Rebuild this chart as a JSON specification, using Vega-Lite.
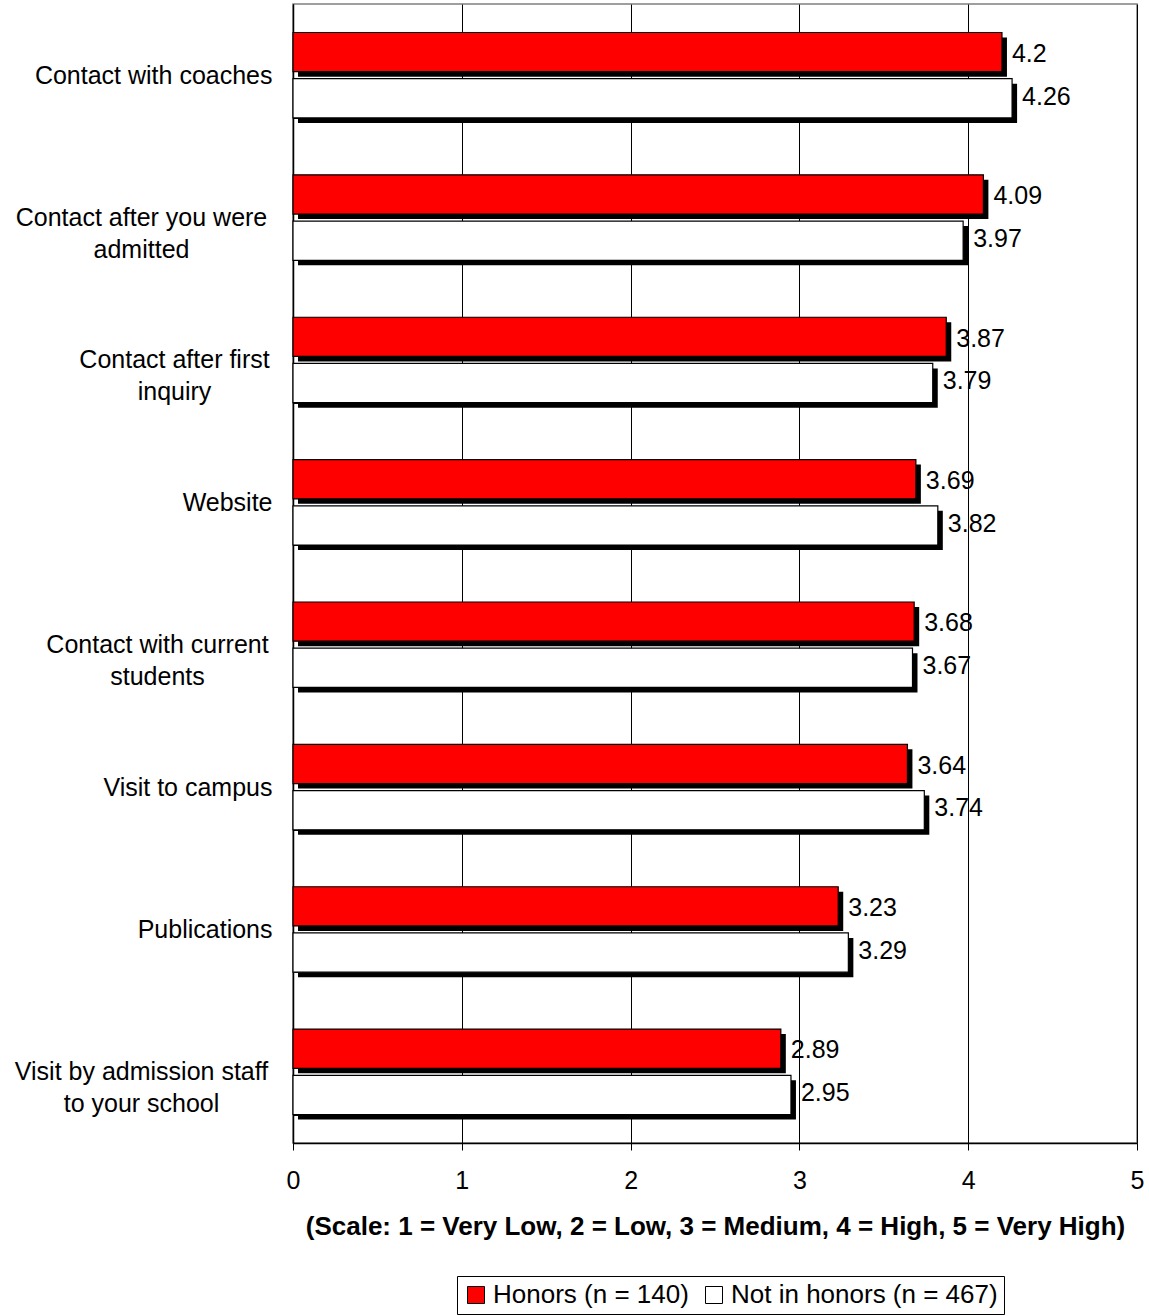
{
  "$schema": "https://vega.github.io/schema/vega-lite/v6.json",
  "width": 844,
  "height": 1139,
  "autosize": "none",
  "padding": {"left": 293, "top": 4, "right": 12, "bottom": 173},
  "background": "white",
  "config": {
    "font": "Liberation Sans",
    "view": {"stroke": "#808080", "strokeWidth": 1.5},
    "axis": {"labelFont": "Liberation Sans", "titleFont": "Liberation Sans", "labelColor": "black", "titleColor": "black", "domainColor": "black", "tickColor": "black"}
  },
  "data": {
    "values": [
      {"category": "Contact with coaches", "group": "Honors (n = 140)", "value": 4.2},
      {"category": "Contact with coaches", "group": "Not in honors (n = 467)", "value": 4.26},
      {"category": "Contact after you were|admitted", "group": "Honors (n = 140)", "value": 4.09},
      {"category": "Contact after you were|admitted", "group": "Not in honors (n = 467)", "value": 3.97},
      {"category": "Contact after first|inquiry", "group": "Honors (n = 140)", "value": 3.87},
      {"category": "Contact after first|inquiry", "group": "Not in honors (n = 467)", "value": 3.79},
      {"category": "Website", "group": "Honors (n = 140)", "value": 3.69},
      {"category": "Website", "group": "Not in honors (n = 467)", "value": 3.82},
      {"category": "Contact with current|students", "group": "Honors (n = 140)", "value": 3.68},
      {"category": "Contact with current|students", "group": "Not in honors (n = 467)", "value": 3.67},
      {"category": "Visit to campus", "group": "Honors (n = 140)", "value": 3.64},
      {"category": "Visit to campus", "group": "Not in honors (n = 467)", "value": 3.74},
      {"category": "Publications", "group": "Honors (n = 140)", "value": 3.23},
      {"category": "Publications", "group": "Not in honors (n = 467)", "value": 3.29},
      {"category": "Visit by admission staff|to your school", "group": "Honors (n = 140)", "value": 2.89},
      {"category": "Visit by admission staff|to your school", "group": "Not in honors (n = 467)", "value": 2.95}
    ]
  },
  "encoding": {
    "y": {
      "field": "category", "type": "nominal", "sort": null,
      "scale": {"paddingInner": 0.4, "paddingOuter": 0.2},
      "axis": {
        "title": null,
        "labelExpr": "isString(datum.value) ? split(datum.value, '|') : ''",
        "labelFontSize": 25,
        "labelLineHeight": 32,
        "labelLimit": 0,
        "tickBand": "extent",
        "tickSize": -8,
        "domainWidth": 1.5,
        "labelAlign": {"condition": {"test": "datum.value == 'Contact after you were|admitted' || datum.value == 'Contact after first|inquiry' || datum.value == 'Contact with current|students' || datum.value == 'Visit by admission staff|to your school'", "value": "center"}, "value": "right"},
        "labelPadding": {"condition": [
          {"test": "datum.value == 'Contact after you were|admitted'", "value": 160},
          {"test": "datum.value == 'Contact after first|inquiry'", "value": 127},
          {"test": "datum.value == 'Contact with current|students'", "value": 144},
          {"test": "datum.value == 'Visit by admission staff|to your school'", "value": 160}
        ], "value": 29}
      }
    },
    "x": {
      "field": "value", "type": "quantitative",
      "scale": {"domain": [0, 5], "nice": false},
      "axis": {
        "title": "(Scale: 1 = Very Low, 2 = Low, 3 = Medium, 4 = High, 5 = Very High)",
        "titleFontSize": 26, "titleFontWeight": "bold", "titlePadding": 20,
        "values": [0, 1, 2, 3, 4, 5],
        "labelFontSize": 25, "labelPadding": 18, "tickSize": 7, "labelFlush": false,
        "grid": true, "gridColor": "black", "gridWidth": 1,
        "domainWidth": 1.5
      }
    }
  },
  "layer": [
    {
      "mark": {"type": "bar", "color": "black", "xOffset": 5},
      "encoding": {
        "yOffset": {"field": "group", "type": "nominal", "sort": null, "scale": {"paddingInner": 0.15, "range": [5, 90.4]}}
      }
    },
    {
      "mark": {"type": "bar", "stroke": "black", "strokeWidth": 1.2},
      "encoding": {
        "yOffset": {"field": "group", "type": "nominal", "sort": null, "scale": {"paddingInner": 0.15}},
        "color": {
          "field": "group", "type": "nominal", "sort": null,
          "scale": {"domain": ["Honors (n = 140)", "Not in honors (n = 467)"], "range": ["#FF0000", "#FFFFFF"]},
          "legend": {
            "title": null, "orient": "none", "direction": "horizontal",
            "legendX": 164, "legendY": 1272,
            "strokeColor": "black", "padding": 6,
            "symbolType": "square", "symbolSize": 289, "symbolStrokeColor": "black", "symbolStrokeWidth": 1,
            "labelFontSize": 26, "labelFont": "Liberation Sans", "labelColor": "black", "labelOffset": 4, "columnPadding": 12, "labelLimit": 0
          }
        }
      }
    },
    {
      "mark": {"type": "text", "align": "left", "baseline": "middle", "dx": 10, "fontSize": 25, "font": "Liberation Sans", "color": "black"},
      "encoding": {
        "yOffset": {"field": "group", "type": "nominal", "sort": null, "scale": {"paddingInner": 0.15}},
        "text": {"field": "value", "type": "quantitative"}
      }
    }
  ],
  "resolve": {"scale": {"yOffset": "independent"}}
}
